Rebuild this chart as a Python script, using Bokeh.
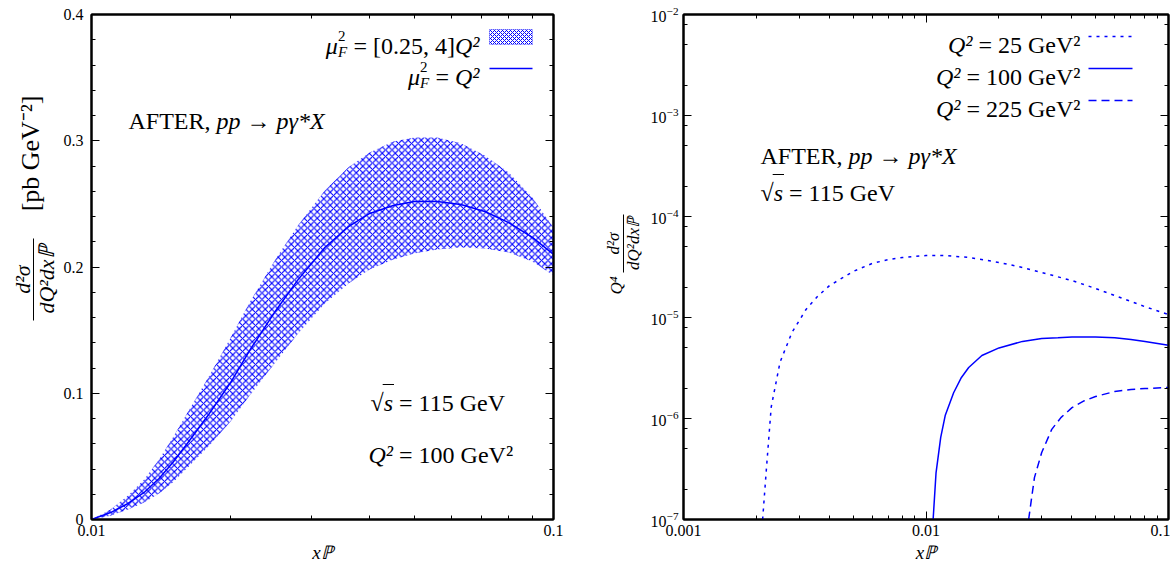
import math
from bokeh.plotting import figure
from bokeh.models import (FixedTicker, CustomJSTickFormatter, LogTickFormatter, LinearAxis, LogAxis,
                          Label, BoxAnnotation, Arrow)
from bokeh.layouts import row
from bokeh.embed import file_html
from bokeh.resources import INLINE

# ---------------- data ----------------
x_left = [0.010, 0.011, 0.012, 0.013, 0.014, 0.015, 0.016, 0.018, 0.020, 0.022, 0.025, 0.028,
          0.032, 0.036, 0.040, 0.045, 0.050, 0.056, 0.063, 0.071, 0.080, 0.090, 0.100]
central = [0.000, 0.0055, 0.0127, 0.0214, 0.0325, 0.0451, 0.0586, 0.084, 0.1085, 0.134, 0.165, 0.190,
           0.2154, 0.232, 0.2424, 0.2487, 0.2519, 0.2519, 0.2495, 0.244, 0.2352, 0.2234, 0.210]
band_hi = [0.000, 0.008, 0.019, 0.0317, 0.0475, 0.065, 0.0824, 0.114, 0.144, 0.172, 0.206, 0.233,
           0.2606, 0.279, 0.2907, 0.2994, 0.3026, 0.3026, 0.298, 0.2883, 0.2748, 0.255, 0.231]
band_lo = [0.000, 0.003, 0.008, 0.0135, 0.0206, 0.0293, 0.0396, 0.0586, 0.0776, 0.0982, 0.1244, 0.1473,
           0.171, 0.187, 0.198, 0.206, 0.2107, 0.2139, 0.2154, 0.2147, 0.2115, 0.2044, 0.1933]

x_q25 = [0.00212, 0.0022, 0.0023, 0.0025, 0.0028, 0.0032, 0.0036, 0.004, 0.005, 0.006, 0.007, 0.008,
         0.01, 0.012, 0.015, 0.02, 0.025, 0.03, 0.04, 0.05, 0.06, 0.07, 0.08, 0.1]
y_q25 = [1.0e-7, 3.3e-7, 1.3e-6, 3.6e-6, 7.1e-6, 1.2e-5, 1.65e-5, 2.07e-5, 2.85e-5, 3.43e-5, 3.75e-5, 3.93e-5,
         4.11e-5, 4.11e-5, 3.93e-5, 3.51e-5, 3.13e-5, 2.79e-5, 2.32e-5, 1.94e-5, 1.65e-5, 1.44e-5, 1.28e-5, 1.07e-5]

x_q100 = [0.0107, 0.011, 0.0115, 0.012, 0.013, 0.014, 0.015, 0.017, 0.02, 0.025, 0.03, 0.035,
          0.04, 0.05, 0.06, 0.07, 0.08, 0.1]
y_q100 = [1.0e-7, 2.9e-7, 6.5e-7, 1.07e-6, 1.8e-6, 2.55e-6, 3.2e-6, 4.2e-6, 5.0e-6, 5.8e-6, 6.2e-6, 6.3e-6,
          6.4e-6, 6.4e-6, 6.3e-6, 6.05e-6, 5.8e-6, 5.3e-6]

x_q225 = [0.0265, 0.028, 0.030, 0.033, 0.036, 0.04, 0.045, 0.05, 0.06, 0.07, 0.08, 0.1]
y_q225 = [1.0e-7, 2.6e-7, 4.6e-7, 7.8e-7, 1.02e-6, 1.28e-6, 1.5e-6, 1.65e-6, 1.85e-6, 1.94e-6, 1.98e-6, 2.03e-6]

# ticks
left_x_major = [0.01, 0.1]
left_x_minor = [0.02, 0.03, 0.04, 0.05, 0.06, 0.07, 0.08, 0.09]
left_y_major = [0, 0.1, 0.2, 0.3, 0.4]
left_y_minor = [0.02, 0.04, 0.06, 0.08, 0.12, 0.14, 0.16, 0.18, 0.22, 0.24, 0.26, 0.28, 0.32, 0.34, 0.36, 0.38]
right_x_major = [0.001, 0.01, 0.1]
right_x_minor = [m * d for d in (0.001, 0.01) for m in range(2, 10)]
right_y_major = [1e-7, 1e-6, 1e-5, 1e-4, 1e-3, 1e-2]
right_y_minor = [m * d for d in (1e-7, 1e-6, 1e-5, 1e-4, 1e-3) for m in (2, 5, 8)]

x_title = "xℙ"

FONT = "Liberation Serif"
BLUE = "#0000ff"
NB = "\u00a0"
S = 24                      # annotation font size
FH = 505
FW1 = 462
FW2 = 485
TOP, BOT = 14, 52
A = math.pi / 2


def lab(p, x, y, text, size=S, italic=False, align="left", baseline="alphabetic", angle=0.0):
    p.add_layout(Label(x=x, y=y, x_units="screen", y_units="screen", text=text,
                       text_font=FONT, text_font_size=f"{size}px",
                       text_font_style="italic" if italic else "normal",
                       text_align=align, text_baseline=baseline, angle=angle,
                       text_color="black"))


def seg(p, x0, y0, x1, y1, color="black", width=1.0, dash="solid"):
    p.add_layout(Arrow(end=None, x_start=x0, y_start=y0, x_end=x1, y_end=y1,
                       start_units="screen", end_units="screen",
                       line_color=color, line_width=width, line_dash=dash))


def blank(w, h, left=0, right=0, top=0, bottom=0):
    f = figure(frame_width=w, frame_height=h, min_border=0, min_border_left=left, min_border_right=right,
               min_border_top=top, min_border_bottom=bottom, x_axis_location=None, y_axis_location=None,
               title_location=None, output_backend="svg", toolbar_location=None)
    f.grid.visible = False
    f.outline_line_color = None
    f.background_fill_color = "white"
    f.border_fill_color = "white"
    return f


def style(p, xt_major, xt_minor, yt_major, yt_minor, xlog, ylog, yfmt, ystand):
    tostr = CustomJSTickFormatter(code="return tick.toString()")
    empty = CustomJSTickFormatter(code="return ''")
    bottom = p.below[0]
    left = p.left[0]
    bottom.ticker = FixedTicker(ticks=xt_major, minor_ticks=xt_minor)
    left.ticker = FixedTicker(ticks=yt_major, minor_ticks=yt_minor)
    bottom.formatter = tostr
    left.formatter = yfmt
    XA = LogAxis if xlog else LinearAxis
    YA = LogAxis if ylog else LinearAxis
    top = XA(ticker=FixedTicker(ticks=xt_major, minor_ticks=xt_minor), formatter=empty)
    right = YA(ticker=FixedTicker(ticks=yt_major, minor_ticks=yt_minor), formatter=empty)
    p.add_layout(top, "above")
    p.add_layout(right, "right")
    for ax in (top, right):
        ax.major_label_text_font_size = "0px"
        ax.major_label_standoff = 0
    for ax in (bottom, left, top, right):
        ax.major_tick_in = 8
        ax.major_tick_out = 0
        ax.minor_tick_in = 4
        ax.minor_tick_out = 0
        ax.axis_line_width = 2
        ax.axis_line_color = "black"
        ax.major_tick_line_color = "black"
        ax.minor_tick_line_color = "black"
        ax.major_label_text_font = FONT
        ax.major_label_text_color = "black"
    for ax in (bottom, left):
        ax.major_label_text_font_size = "16px"
    bottom.major_label_standoff = 5
    left.major_label_standoff = ystand
    bottom.axis_label = x_title
    bottom.axis_label_text_font = FONT
    bottom.axis_label_text_font_size = "19px"
    bottom.axis_label_text_font_style = "italic"
    bottom.axis_label_text_color = "black"
    bottom.axis_label_standoff = 3
    p.grid.visible = False
    p.outline_line_color = "black"
    p.outline_line_width = 2
    p.background_fill_color = "white"
    p.border_fill_color = "white"


# widths (em) of a few pieces, used to chain text pieces
W_QSQ = 1.022 * S          # italic "Q²"
W_SP = 0.25 * S            # (no-break) space
W_AFTER = 3.667 * S        # "AFTER, "
W_RAD = 0.549 * S          # "√"
W_S = 0.389 * S            # italic "s"

# ---------------- left panel ----------------
p1 = figure(x_axis_type="log", x_range=(0.01, 0.1), y_range=(0, 0.4),
            frame_width=FW1, frame_height=FH, title_location=None,
            min_border_left=31, min_border_right=20, min_border_top=TOP, min_border_bottom=BOT,
            output_backend="svg", toolbar_location=None)
style(p1, left_x_major, left_x_minor, left_y_major, left_y_minor, True, False,
      CustomJSTickFormatter(code="return tick.toString()"), 8)

p1.varea(x=x_left, y1=band_lo, y2=band_hi, fill_alpha=0.0,
         hatch_pattern="diagonal_cross", hatch_color=BLUE, hatch_scale=6.5, hatch_weight=1.1, hatch_alpha=1.0)
p1.line(x_left, central, line_color=BLUE, line_width=1.5)

# legend (manual: text left of the samples)
p1.add_layout(BoxAnnotation(left=FW1 - 64, right=FW1 - 21, bottom=475, top=490,
                            left_units="screen", right_units="screen", bottom_units="screen", top_units="screen",
                            fill_alpha=0.0, line_color=BLUE, line_width=1,
                            hatch_pattern="diagonal_cross", hatch_color=BLUE, hatch_scale=4, hatch_weight=1))
seg(p1, FW1 - 64, 451, FW1 - 21, 451, color=BLUE, width=1.5)
xe = FW1 - 74
r1 = xe - W_QSQ - 4.233 * S - W_SP - 9.5
lab(p1, xe, 474, "Q²", italic=True, align="right")
lab(p1, xe - W_QSQ, 474, "=" + NB + "[0.25," + NB + "4]", align="right")
lab(p1, r1, 484, "2", size=15)
lab(p1, r1, 468, "F", size=15, italic=True)
lab(p1, r1, 474, "μ", italic=True, align="right")
r2 = xe - W_QSQ - W_SP - 0.564 * S - W_SP - 9.5
lab(p1, xe, 443, "Q²", italic=True, align="right")
lab(p1, xe - W_QSQ - W_SP, 443, "=", align="right")
lab(p1, r2, 453, "2", size=15)
lab(p1, r2, 437, "F", size=15, italic=True)
lab(p1, r2, 443, "μ", italic=True, align="right")

# annotations
lab(p1, 37, 399, "AFTER," + NB)
lab(p1, 37 + W_AFTER, 399, "pp" + NB + "→" + NB + "pγ*X", italic=True)
lab(p1, 279, 117, "√")
lab(p1, 279 + W_RAD, 117, "s", italic=True)
seg(p1, 279 + W_RAD - 1, 135, 279 + W_RAD + W_S + 1, 135)
lab(p1, 279 + W_RAD + W_S, 117, NB + "=" + NB + "115" + NB + "GeV")
lab(p1, 277, 65, "Q²", italic=True)
lab(p1, 277 + W_QSQ, 65, NB + "=" + NB + "100" + NB + "GeV²")

# ---------------- right panel ----------------
p2 = figure(x_axis_type="log", y_axis_type="log", x_range=(0.001, 0.1), y_range=(1e-7, 1e-2),
            frame_width=FW2, frame_height=FH, title_location=None,
            min_border_left=38, min_border_right=2, min_border_top=TOP, min_border_bottom=BOT,
            output_backend="svg", toolbar_location=None)
style(p2, right_x_major, right_x_minor, right_y_major, right_y_minor, True, True, LogTickFormatter(), 5)

p2.line(x_q25, y_q25, line_color=BLUE, line_width=1.5, line_dash="3 5")
p2.line(x_q100, y_q100, line_color=BLUE, line_width=1.5)
p2.line(x_q225, y_q225, line_color=BLUE, line_width=1.5, line_dash="8 5")

xs0, xs1 = FW2 - 80, FW2 - 36
seg(p2, xs0, 483, xs1, 483, color=BLUE, width=1.5, dash="3 5")
seg(p2, xs0, 451, xs1, 451, color=BLUE, width=1.5)
seg(p2, xs0, 419, xs1, 419, color=BLUE, width=1.5, dash="8 5")
xe2 = FW2 - 88
for yb, num, w in ((475, "25", 4.502), (443, "100", 5.002), (411, "225", 5.002)):
    lab(p2, xe2, yb, NB + "=" + NB + num + NB + "GeV²", align="right")
    lab(p2, xe2 - w * S, yb, "Q²", italic=True, align="right")

lab(p2, 77, 364, "AFTER," + NB)
lab(p2, 77 + W_AFTER, 364, "pp" + NB + "→" + NB + "pγ*X", italic=True)
lab(p2, 77, 327, "√")
lab(p2, 77 + W_RAD, 327, "s", italic=True)
seg(p2, 77 + W_RAD - 1, 345, 77 + W_RAD + W_S + 1, 345)
lab(p2, 77 + W_RAD + W_S, 327, NB + "=" + NB + "115" + NB + "GeV")

# ---------------- y-axis titles (label strips sharing the panels' frame geometry) ----------------
yl1 = blank(60, FH, top=TOP, bottom=BOT)
lab(yl1, 22, 240, "d²σ", size=22, italic=True, align="center", baseline="middle", angle=A)
seg(yl1, 33, 199, 33, 281)
lab(yl1, 45.5, 240, "dQ²dxℙ", size=22, italic=True, align="center", baseline="middle", angle=A)
lab(yl1, 30, 366, "[pb" + NB + "GeV⁻²]", size=26, align="center", baseline="middle", angle=A)

yl2 = blank(72, FH, top=TOP, bottom=BOT)
lab(yl2, 43, 234, "Q⁴", size=17, italic=True, align="center", baseline="middle", angle=A)
lab(yl2, 40, 276, "d²σ", size=17, italic=True, align="center", baseline="middle", angle=A)
seg(yl2, 50, 247, 50, 305)
lab(yl2, 60, 276, "dQ²dxℙ", size=17, italic=True, align="center", baseline="middle", angle=A)

layout = row(yl1, p1, yl2, p2)
open("out.html", "w").write(file_html(layout, INLINE))
